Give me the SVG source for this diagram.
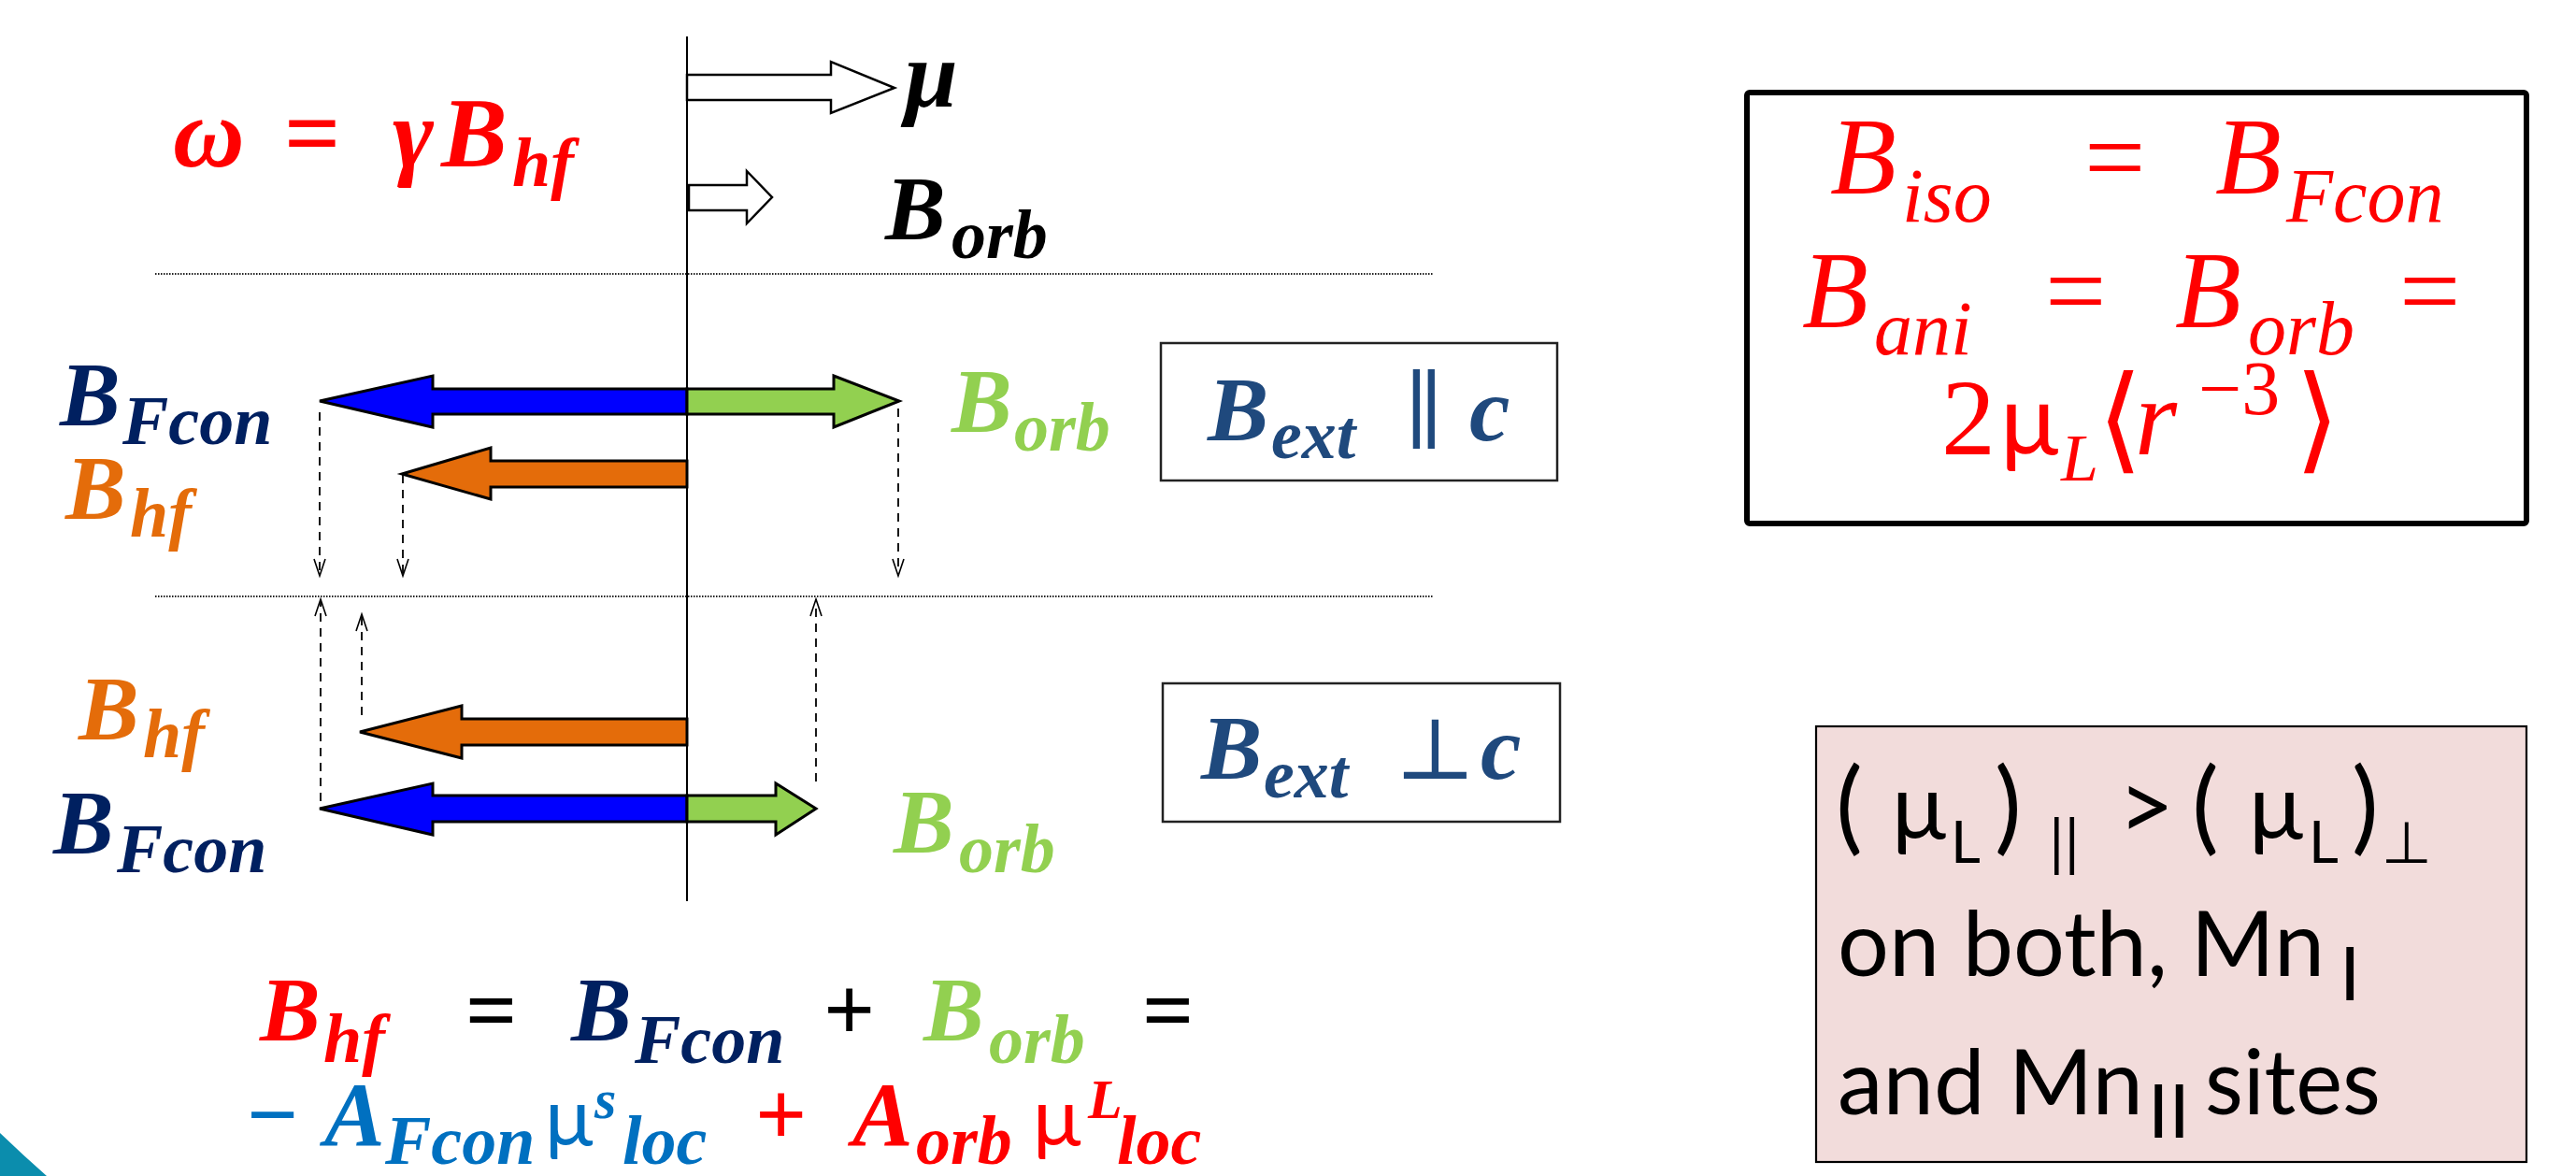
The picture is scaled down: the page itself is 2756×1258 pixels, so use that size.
<svg xmlns="http://www.w3.org/2000/svg" width="2756" height="1258" viewBox="0 0 2756 1258">
<style>
.m{font-family:"Liberation Serif","DejaVu Serif",serif;font-style:italic;font-weight:bold}
.u{font-family:"Liberation Serif","DejaVu Serif",serif;font-style:normal;font-weight:bold}
.r{font-family:"Liberation Serif","DejaVu Serif",serif;font-style:italic;font-weight:normal;fill:#FF0000}
.ru{font-family:"Liberation Serif","DejaVu Serif",serif;font-style:normal;font-weight:normal;fill:#FF0000}
.s{font-family:Lato,"DejaVu Sans",sans-serif;font-weight:normal}
.big{font-size:97px}
.sub{font-size:74px}
.navy{fill:#002060}
.org{fill:#E46C0A}
.grn{fill:#92D050}
.red{fill:#FF0000}
.ext{fill:#1F497D}
.lb{fill:#0070C0}
.blk{fill:#000000}
.arr{stroke:#000;stroke-width:3;stroke-linejoin:miter}
.hollow{fill:#fff;stroke:#000;stroke-width:2.5}
.dash{stroke:#000;stroke-width:1.8;stroke-dasharray:9 7;fill:none}
.dot{stroke:#222;stroke-width:2;stroke-dasharray:1.5 1.5}
</style>
<defs>
<marker id="open" markerUnits="userSpaceOnUse" markerWidth="22" markerHeight="16" viewBox="0 -8 22 16" refX="19" refY="0" orient="auto">
<path d="M1,-6 L19,0 L1,6" fill="none" stroke="#000" stroke-width="1.6"/>
</marker>
</defs>
<rect width="2756" height="1258" fill="#fff"/>
<path d="M0,1212 Q25,1236 50,1258 L0,1258 Z" fill="#0B8DAD"/>

<g id="separators">
<line class="dot" x1="166" y1="293" x2="1533" y2="293"/>
<line class="dot" x1="166" y1="638" x2="1533" y2="638"/>
</g>

<g id="omega-eq">
<text class="m red" font-size="106"><tspan x="185" y="178">ω</tspan><tspan class="u" x="304" y="178">=</tspan><tspan x="420" y="178">γ</tspan><tspan x="472" y="178">B</tspan><tspan x="548" y="199" font-size="74">hf</tspan></text>
</g>

<g id="mu-arrow">
<polygon class="hollow" points="735,80 889,80 889,66 957,94 889,121 889,107 735,107"/>
<text class="m blk" font-size="102" x="968" y="114">μ</text>
</g>
<g id="borb-arrow">
<polygon class="hollow" points="737,198 799,198 799,183 826,211 799,239 799,225 737,225"/>
<text class="m blk"><tspan class="big" x="947" y="256">B</tspan><tspan class="sub" x="1018" y="276">orb</tspan></text>
</g>

<g id="par-arrows">
<polygon class="arr" fill="#0000FF" points="735,416 463,416 463,402 342,429 463,457 463,443 735,443"/>
<polygon class="arr" fill="#92D050" points="735,416 892,416 892,402 962,429 892,457 892,443 735,443"/>
<polygon class="arr" fill="#E46C0A" points="735,493 525,493 525,479 430,507 525,534 525,521 735,521"/>
</g>
<g id="perp-arrows">
<polygon class="arr" fill="#E46C0A" points="735,769 494,769 494,755 385,783 494,811 494,797 735,797"/>
<polygon class="arr" fill="#0000FF" points="735,851 463,851 463,838 342,865 463,893 463,879 735,879"/>
<polygon class="arr" fill="#92D050" points="735,851 830,851 830,838 873,865 830,893 830,879 735,879"/>
</g>

<g id="connectors">
<line class="dash" x1="342" y1="441" x2="342" y2="616" marker-end="url(#open)"/>
<line class="dash" x1="431" y1="508" x2="431" y2="616" marker-end="url(#open)"/>
<line class="dash" x1="961" y1="437" x2="961" y2="616" marker-end="url(#open)"/>
<line class="dash" x1="343" y1="857" x2="343" y2="641" marker-end="url(#open)"/>
<line class="dash" x1="387" y1="765" x2="387" y2="657" marker-end="url(#open)"/>
<line class="dash" x1="873" y1="836" x2="873" y2="641" marker-end="url(#open)"/>
</g>

<g id="axis">
<line x1="735" y1="39" x2="735" y2="964" stroke="#000" stroke-width="2"/>
</g>

<g id="label-par">
<text class="m navy"><tspan class="big" x="64" y="455">B</tspan><tspan class="sub" x="131" y="475">Fcon</tspan></text>
<text class="m org"><tspan class="big" x="70" y="555">B</tspan><tspan class="sub" x="139" y="574">hf</tspan></text>
<text class="m grn"><tspan class="big" x="1018" y="462">B</tspan><tspan class="sub" x="1085" y="482">orb</tspan></text>
</g>
<g id="box-par">
<rect x="1242" y="367" width="424" height="147" fill="#fff" stroke="#222" stroke-width="2.5"/>
<text class="m ext"><tspan font-size="98" x="1292" y="471">B</tspan><tspan font-size="74" x="1360" y="490">ext</tspan><tspan class="ru ext" font-size="92" x="1502" y="471">∥</tspan><tspan font-size="98" x="1572" y="471">c</tspan></text>
</g>

<g id="label-perp">
<text class="m org"><tspan class="big" x="84" y="791">B</tspan><tspan class="sub" x="153" y="810">hf</tspan></text>
<text class="m navy"><tspan class="big" x="57" y="913">B</tspan><tspan class="sub" x="125" y="933">Fcon</tspan></text>
<text class="m grn"><tspan class="big" x="956" y="912">B</tspan><tspan class="sub" x="1026" y="933">orb</tspan></text>
</g>
<g id="box-perp">
<rect x="1244" y="731" width="425" height="148" fill="#fff" stroke="#222" stroke-width="2.5"/>
<text class="m ext"><tspan font-size="98" x="1285" y="833">B</tspan><tspan font-size="74" x="1352" y="853">ext</tspan><tspan class="ru ext" font-size="92" x="1492" y="833">⊥</tspan><tspan font-size="98" x="1584" y="833">c</tspan></text>
</g>

<g id="bottom-formula">
<text class="m"><tspan class="big red" x="278" y="1113">B</tspan><tspan class="sub red" x="346" y="1136">hf</tspan><tspan class="u big blk" x="498" y="1113">=</tspan><tspan class="big navy" x="611" y="1113">B</tspan><tspan class="sub navy" x="679" y="1137">Fcon</tspan><tspan class="u big blk" x="881" y="1113">+</tspan><tspan class="big grn" x="988" y="1113">B</tspan><tspan class="sub grn" x="1058" y="1137">orb</tspan><tspan class="u big blk" x="1222" y="1113">=</tspan></text>
<text class="m"><tspan class="u big lb" x="264" y="1225">−</tspan><tspan class="big lb" x="347" y="1225">A</tspan><tspan class="sub lb" x="412" y="1245">Fcon</tspan></text>
<text class="s lb" font-size="86" x="583" y="1225">μ</text>
<text class="m lb"><tspan font-size="60" x="636" y="1196">s</tspan><tspan class="sub" x="666" y="1245">loc</tspan></text>
<text class="m red"><tspan class="u big" x="808" y="1225">+</tspan><tspan class="big" x="912" y="1225">A</tspan><tspan class="sub" x="980" y="1245">orb</tspan></text>
<text class="s red" font-size="86" x="1105" y="1225">μ</text>
<text class="m red"><tspan font-size="60" x="1164" y="1196">L</tspan><tspan class="sub" x="1195" y="1245">loc</tspan></text>
</g>

<g id="box-iso-ani">
<rect x="1869" y="99" width="834" height="461" fill="#fff" stroke="#000" stroke-width="6" rx="3"/>
<text class="r" font-size="116"><tspan x="1958" y="207">B</tspan><tspan font-size="82" x="2035" y="237">iso</tspan><tspan class="ru" x="2230" y="207">=</tspan><tspan x="2370" y="207">B</tspan><tspan font-size="82" x="2446" y="237">Fcon</tspan></text>
<text class="r" font-size="116"><tspan x="1928" y="350">B</tspan><tspan font-size="82" x="2005" y="379">ani</tspan><tspan class="ru" x="2188" y="350">=</tspan><tspan x="2327" y="350">B</tspan><tspan font-size="82" x="2405" y="379">orb</tspan><tspan class="ru" x="2567" y="350">=</tspan></text>
<text class="ru" font-size="116" x="2077" y="486">2</text>
<text class="s red" font-size="104" x="2140" y="486">μ</text>
<text class="r"><tspan font-size="72" x="2205" y="514">L</tspan></text>
<text class="ru" font-size="124" x="2244" y="490">⟨</text>
<text class="r" font-size="116" x="2284" y="486">r</text>
<text class="ru" font-size="82" x="2352" y="443">−3</text>
<text class="ru" font-size="124" x="2455" y="490">⟩</text>
</g>

<g id="box-muL">
<rect x="1943" y="777" width="760" height="466" fill="#F2DCDB" stroke="#000" stroke-width="2.2"/>
<text class="s blk" font-size="97"><tspan font-size="108" x="1964" y="900">(</tspan><tspan x="2024" y="897">μ</tspan><tspan font-size="62" x="2087" y="923">L</tspan><tspan font-size="108" x="2134" y="900">)</tspan><tspan font-size="66" x="2192" y="925">||</tspan><tspan font-size="104" x="2266" y="899">&gt;</tspan><tspan font-size="108" x="2345" y="900">(</tspan><tspan x="2406" y="897">μ</tspan><tspan font-size="62" x="2470" y="923">L</tspan><tspan font-size="108" x="2516" y="900">)</tspan><tspan font-size="62" x="2548" y="923">⊥</tspan></text>
<text class="s blk" font-size="97"><tspan x="1966" y="1044" textLength="521" lengthAdjust="spacingAndGlyphs">on both, Mn</tspan><tspan font-size="80" x="2503" y="1070">I</tspan></text>
<text class="s blk" font-size="97"><tspan x="1966" y="1192" textLength="327" lengthAdjust="spacingAndGlyphs">and Mn</tspan><tspan font-size="80" x="2298" y="1217">II</tspan><tspan x="2359" y="1192" textLength="188" lengthAdjust="spacingAndGlyphs">sites</tspan></text>
</g>
</svg>
